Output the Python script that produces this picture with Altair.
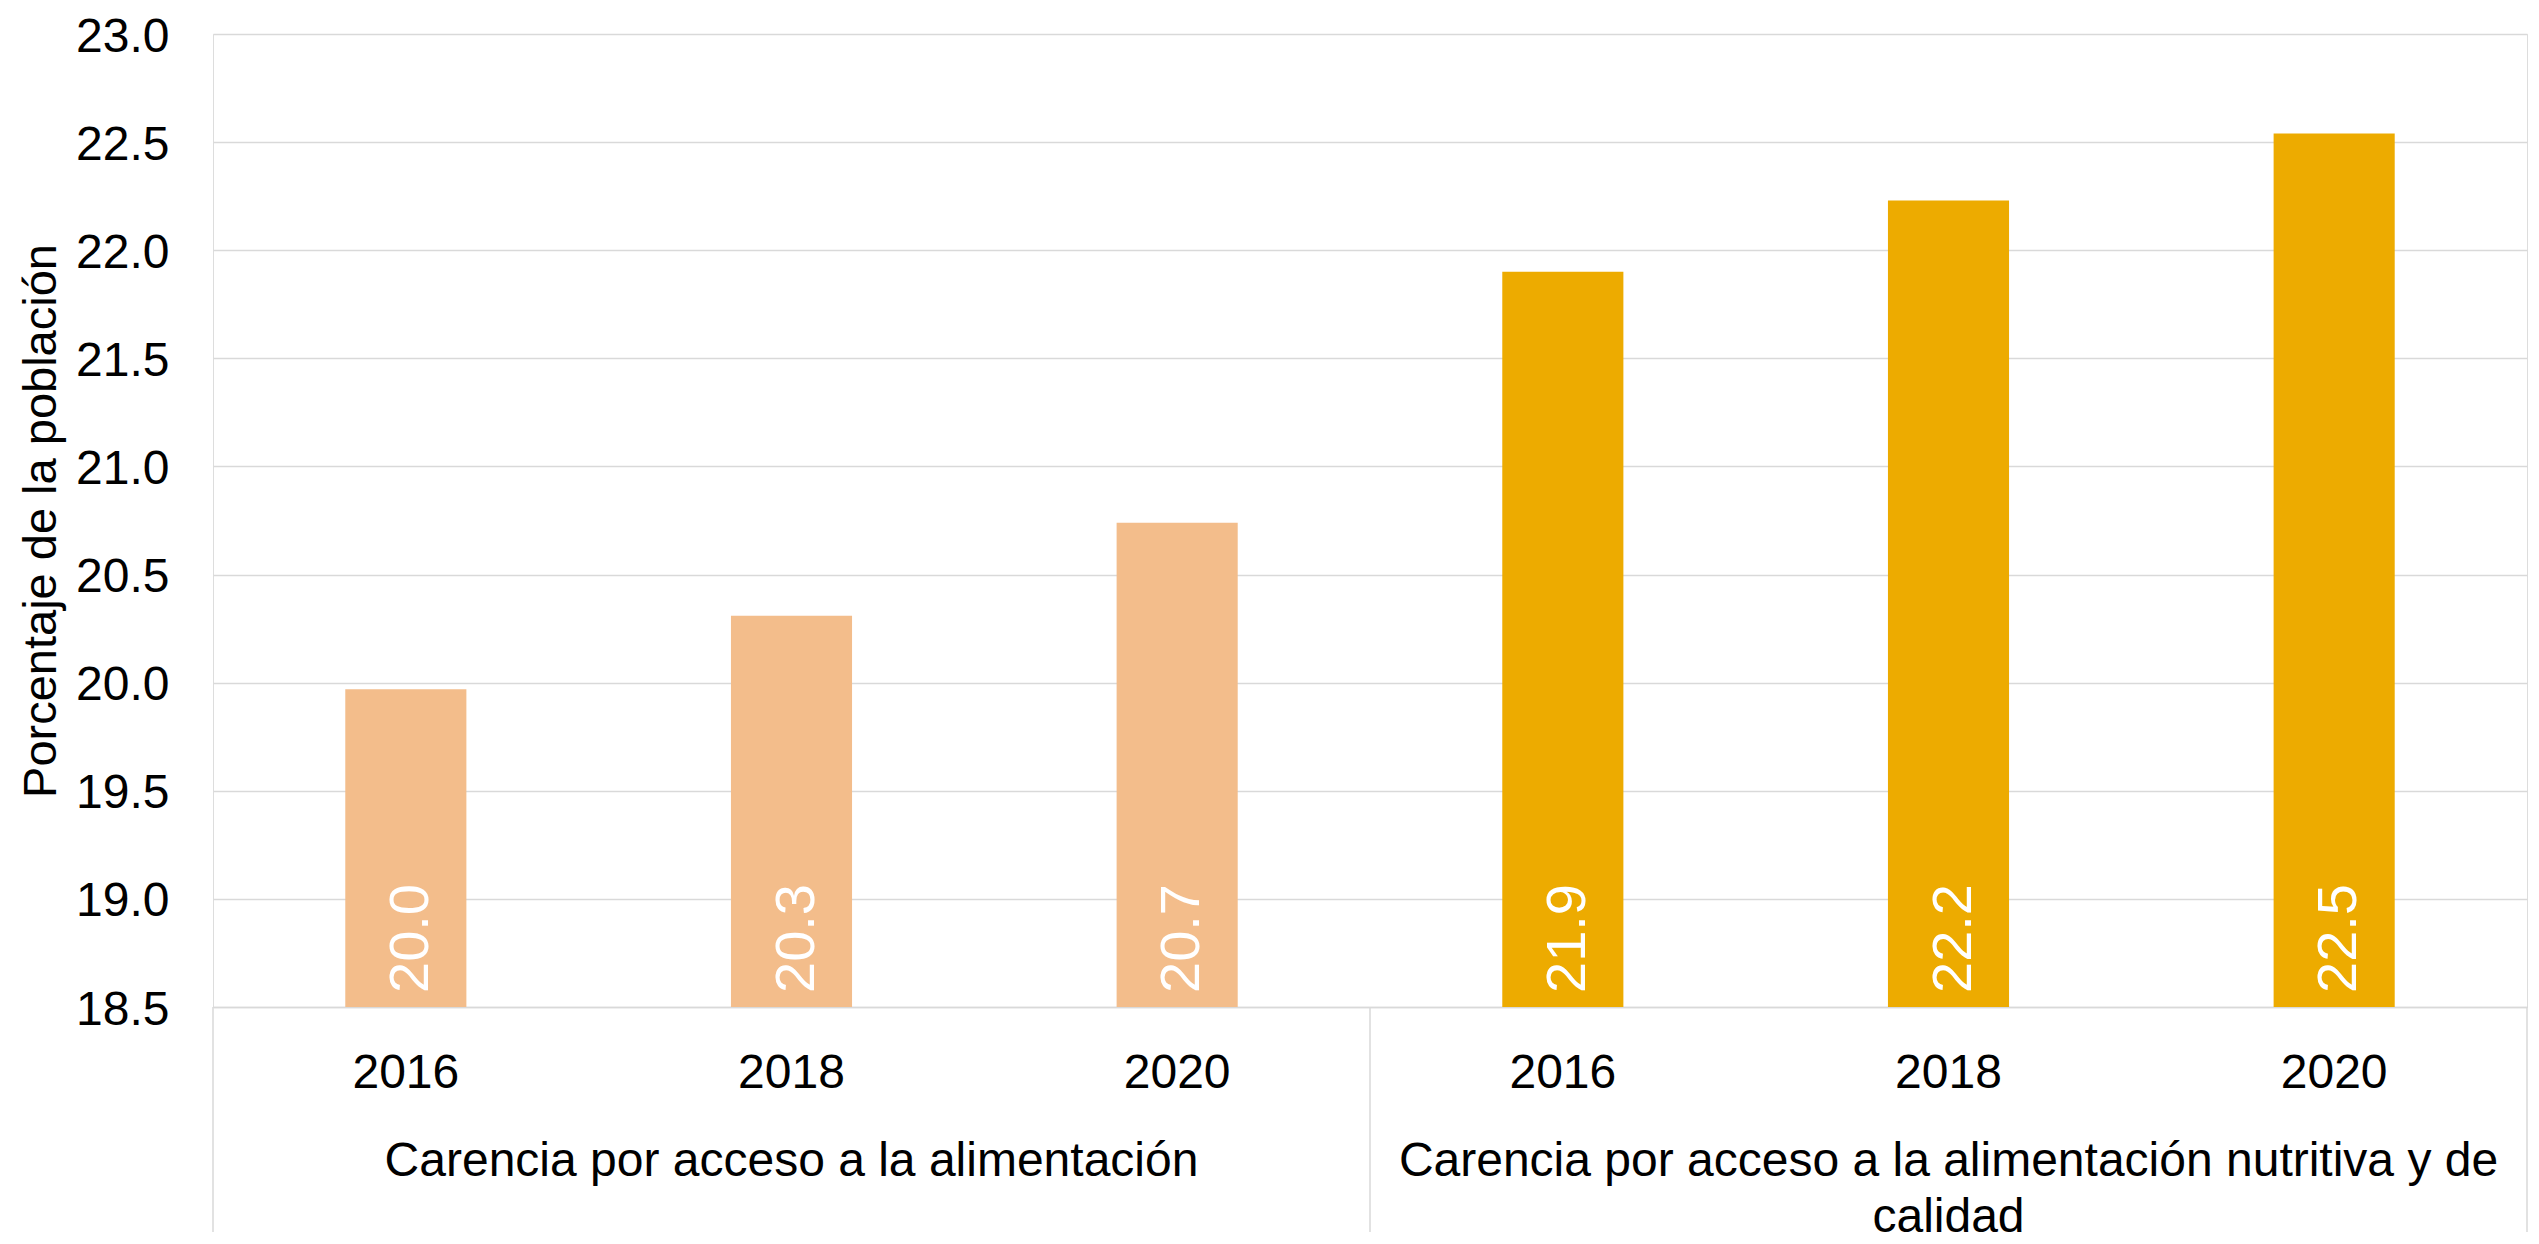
import altair as alt
import pandas as pd

FONT = "Liberation Sans"

GROUPS = [
    "Carencia por acceso a la alimentación",
    "Carencia por acceso a la alimentación nutritiva y de calidad",
]
GROUP_LABELS = [
    "Carencia por acceso a la alimentación",
    "Carencia por acceso a la alimentación nutritiva y de\ncalidad",
]
YEARS = ["2016", "2018", "2020"]
VALUES_ACCESO = [19.97, 20.31, 20.74]
VALUES_NUTRITIVA = [21.90, 22.23, 22.54]
COLORS = ["#F3BD8B", "#EDAB00"]
Y_MIN = 18.5
Y_MAX = 23.0
Y_TICKS = [18.5, 19.0, 19.5, 20.0, 20.5, 21.0, 21.5, 22.0, 22.5, 23.0]
Y_TITLE = "Porcentaje de la población"

W = 2314
H = 973
BOTTOM = 225

rows = []
for g, vals in zip(GROUPS, [VALUES_ACCESO, VALUES_NUTRITIVA]):
    for yr, v in zip(YEARS, vals):
        rows.append({"group": g, "year": yr, "key": f"{g}|{yr}", "value": v, "base": Y_MIN})
bars_df = pd.DataFrame(rows)
KEYS = list(bars_df["key"])
groups_df = pd.DataFrame({"group": GROUPS, "label": GROUP_LABELS})

key_scale = alt.Scale(type="band", paddingInner=0.686, paddingOuter=0.343)
group_scale = alt.Scale(type="band", paddingInner=0, paddingOuter=0)
y_scale = alt.Scale(domain=[Y_MIN, Y_MAX], zero=False, nice=False)

x_axis = alt.Axis(
    title=None,
    labelExpr="split(datum.label, '|')[1]",
    ticks=False,
    tickSize=0,
    labelPadding=42,
    labelFontSize=48,
    labelFont=FONT,
    labelColor="#000000",
    labelAngle=0,
    labelLimit=0,
    domainColor="#D9D9D9",
    domainWidth=1.5,
    grid=False,
)

y_axis = alt.Axis(
    values=Y_TICKS,
    format=".1f",
    title=Y_TITLE,
    titleFont=FONT,
    titleFontSize=47,
    titleFontWeight="normal",
    titleColor="#000000",
    titleX=-158,
    titleY=H / 2,
    titleAngle=270,
    titleAlign="center",
    titleBaseline="alphabetic",
    labelFont=FONT,
    labelFontSize=48,
    labelColor="#000000",
    labelPadding=44,
    labelOffset=3,
    ticks=False,
    tickSize=0,
    domain=False,
    grid=True,
    gridColor="#D9D9D9",
    gridWidth=1.5,
)

base = alt.Chart(bars_df).encode(
    x=alt.X("key:N", sort=KEYS, scale=key_scale, axis=x_axis),
)

bars = base.mark_bar().encode(
    y=alt.Y("value:Q", scale=y_scale, axis=y_axis),
    y2="base:Q",
    color=alt.Color("group:N", sort=GROUPS, scale=alt.Scale(domain=GROUPS, range=COLORS), legend=None),
)

bar_labels = base.mark_text(
    angle=270, align="left", baseline="middle", dx=14, dy=5,
    fontSize=56, font=FONT, color="#FFFFFF",
).encode(
    y=alt.Y("base:Q", scale=y_scale, axis=y_axis),
    text=alt.Text("value:Q", format=".1f"),
)

bar_layer = alt.layer(bars, bar_labels)

rules = alt.Chart(groups_df).mark_rule(color="#D9D9D9", strokeWidth=1.5).encode(
    x=alt.X("group:N", sort=GROUPS, bandPosition=0, scale=group_scale, axis=None),
    y=alt.value(H),
    y2=alt.value(H + BOTTOM),
)

rule_end = alt.Chart(groups_df).transform_filter(
    alt.datum.group == GROUPS[-1]
).mark_rule(color="#D9D9D9", strokeWidth=1.5).encode(
    x=alt.X("group:N", sort=GROUPS, bandPosition=1, scale=group_scale, axis=None),
    y=alt.value(H),
    y2=alt.value(H + BOTTOM),
)

group_text = alt.Chart(groups_df).mark_text(
    baseline="top", align="center", fontSize=48, font=FONT,
    lineBreak="\n", lineHeight=56, color="#000000",
).encode(
    x=alt.X("group:N", sort=GROUPS, bandPosition=0.5, scale=group_scale, axis=None),
    y=alt.value(1104),
    text="label:N",
)

group_layer = alt.layer(rules, rule_end, group_text)

chart = (
    alt.layer(bar_layer, group_layer)
    .resolve_scale(x="independent")
    .properties(
        width=W,
        height=H,
        autosize=alt.AutoSizeParams(type="none"),
        padding={"left": 205, "top": 26, "right": 4, "bottom": BOTTOM},
        background="#FFFFFF",
    )
    .configure_view(stroke="transparent", strokeWidth=0, strokeOpacity=0)
    .configure(font=FONT)
)

chart.save("out.html", embed_options={"renderer": "svg", "actions": False})
